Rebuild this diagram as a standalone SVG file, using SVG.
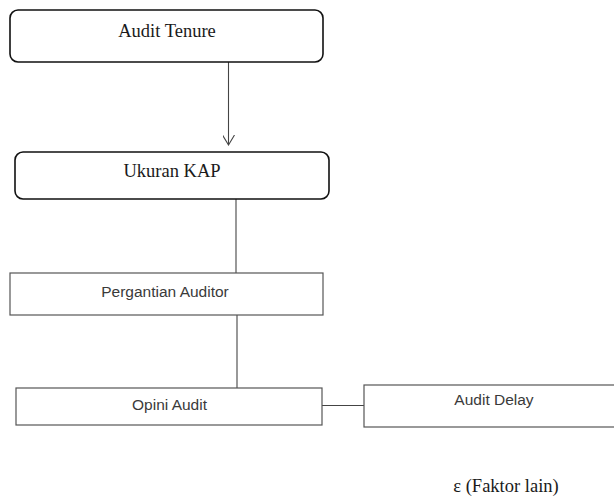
<svg xmlns="http://www.w3.org/2000/svg" width="614" height="496" viewBox="0 0 614 496">
<style>
.rr{fill:#fff;stroke:#111;stroke-width:1.6}
.bx{fill:#fff;stroke:#555;stroke-width:1.2}
.serif{font-family:"Liberation Serif","Times New Roman",serif;font-size:18.5px;fill:#1a1a1a;text-anchor:middle}
.sans{font-family:"Liberation Sans",Arial,sans-serif;font-size:15.5px;fill:#3a3a3a;text-anchor:middle}
.ln{stroke:#444;stroke-width:1.1;fill:none}
</style>
<defs>
<marker id="arr" markerWidth="12" markerHeight="12" refX="10" refY="6" orient="auto" markerUnits="userSpaceOnUse">
<path d="M0,0 L10,6 L0,12" fill="none" stroke="#444" stroke-width="1.1"/>
</marker>
</defs>
<rect width="614" height="496" fill="#fff"/>
<g id="connectors">
<line class="ln" x1="228.5" y1="62" x2="228.5" y2="145" marker-end="url(#arr)"/>
<line class="ln" x1="236" y1="199" x2="236" y2="273"/>
<line class="ln" x1="237" y1="315" x2="237" y2="388"/>
<line class="ln" x1="322" y1="405.5" x2="364" y2="405.5"/>
</g>
<g id="audit-tenure">
<rect class="rr" x="10" y="10" width="313" height="52" rx="8"/>
<text class="serif" x="167" y="37">Audit Tenure</text>
</g>
<g id="ukuran-kap">
<rect class="rr" x="15" y="152" width="314" height="47" rx="8"/>
<text class="serif" x="172" y="177">Ukuran KAP</text>
</g>
<g id="pergantian-auditor">
<rect class="bx" x="10" y="273" width="313" height="42"/>
<text class="sans" x="165" y="297">Pergantian Auditor</text>
</g>
<g id="opini-audit">
<rect class="bx" x="16" y="388" width="306" height="37"/>
<text class="sans" x="169.5" y="410">Opini Audit</text>
</g>
<g id="audit-delay">
<rect class="bx" x="364" y="385" width="260" height="42"/>
<text class="sans" x="494" y="405">Audit Delay</text>
</g>
<g id="faktor-lain">
<text class="serif" x="506" y="492">ε (Faktor lain)</text>
</g>
</svg>
